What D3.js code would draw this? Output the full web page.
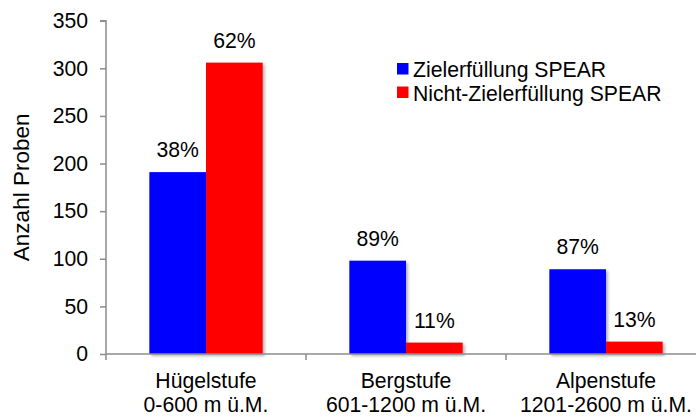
<!DOCTYPE html>
<html>
<head>
<meta charset="utf-8">
<script src="https://cdn.jsdelivr.net/npm/d3@7/dist/d3.min.js"></script>
<style>
  html, body { margin: 0; padding: 0; background: #fff; }
  svg { display: block; font-family: "Liberation Sans", Arial, sans-serif; }
</style>
</head>
<body>
<svg id="chart" width="696" height="416"></svg>
<script>
const categories = ["Hügelstufe", "Bergstufe", "Alpenstufe"];
const categorySub = ["0-600 m ü.M.", "601-1200 m ü.M.", "1201-2600 m ü.M."];
const seriesNames = ["Zielerfüllung SPEAR", "Nicht-Zielerfüllung SPEAR"];
const seriesColors = ["#0000ff", "#ff0000"];
const zielValues = [191, 98, 89];
const nichtZielValues = [306, 12, 13];
const zielLabels = ["38%", "89%", "87%"];
const nichtZielLabels = ["62%", "11%", "13%"];
const yTicks = [0, 50, 100, 150, 200, 250, 300, 350];

(function () {
const svg = d3.select("#chart");
const mLeft = 106, mRight = 706, mTop = 20.7, mBottom = 354;
const fs = 21.2;

const defs = svg.append("defs");
const f = defs.append("filter").attr("id", "shadow")
  .attr("x", "-10%").attr("y", "-10%").attr("width", "130%").attr("height", "130%");
f.append("feDropShadow").attr("dx", 2).attr("dy", 2).attr("stdDeviation", 1.5)
  .attr("flood-color", "#000").attr("flood-opacity", 0.3);

const x = d3.scaleBand().domain(categories).range([mLeft, mRight]).padding(0);
const bw = x.bandwidth();
const x1 = d3.scaleBand().domain(seriesNames).range([bw * 0.2167, bw * 0.7833]).padding(0);
const y = d3.scaleLinear().domain([0, 350]).range([mBottom, mTop]);

const data = categories.map((c, i) => ({
  cat: c,
  vals: [
    { s: seriesNames[0], v: zielValues[i], lab: zielLabels[i], col: seriesColors[0] },
    { s: seriesNames[1], v: nichtZielValues[i], lab: nichtZielLabels[i], col: seriesColors[1] }
  ]
}));

// Y axis
const yAxis = d3.axisLeft(y).tickValues(yTicks).tickSize(6).tickPadding(12);
const gy = svg.append("g").attr("transform", `translate(${mLeft},0)`).call(yAxis);
gy.select(".domain").attr("stroke", "#8c8c8c").attr("stroke-width", 1.5)
  .attr("d", `M-6,${mTop}H0V${mBottom}`);
gy.selectAll(".tick line").attr("stroke", "#8c8c8c").attr("stroke-width", 1.5);
gy.selectAll(".tick text").attr("font-size", fs).attr("fill", "#000")
  .attr("font-family", "Liberation Sans, Arial, sans-serif");

// bars
const groups = svg.append("g").selectAll("g").data(data).join("g")
  .attr("transform", d => `translate(${x(d.cat)},0)`);
groups.selectAll("rect").data(d => d.vals).join("rect")
  .attr("x", d => x1(d.s))
  .attr("y", d => y(d.v))
  .attr("width", x1.bandwidth())
  .attr("height", d => y(0) - y(d.v))
  .attr("fill", d => d.col)
  .attr("filter", "url(#shadow)");
groups.selectAll("text").data(d => d.vals).join("text")
  .attr("x", d => x1(d.s) + x1.bandwidth() / 2)
  .attr("y", d => y(d.v) - 15)
  .attr("text-anchor", "middle")
  .attr("font-size", fs)
  .attr("fill", "#000")
  .text(d => d.lab);

// X axis
svg.append("line").attr("x1", mLeft).attr("x2", 696).attr("y1", mBottom).attr("y2", mBottom)
  .attr("stroke", "#8c8c8c").attr("stroke-width", 1.5);
const boundaries = categories.map(c => x(c)).concat([x(categories[categories.length - 1]) + bw]);
svg.append("g").selectAll("line").data(boundaries).join("line")
  .attr("x1", d => d).attr("x2", d => d)
  .attr("y1", mBottom).attr("y2", mBottom + 6)
  .attr("stroke", "#8c8c8c").attr("stroke-width", 1.5);
const xl = svg.append("g").selectAll("text").data(categories).join("text")
  .attr("text-anchor", "middle")
  .attr("font-size", fs)
  .attr("fill", "#000");
xl.append("tspan").attr("x", d => x(d) + bw / 2).attr("y", 388).text(d => d);
xl.append("tspan").attr("x", d => x(d) + bw / 2).attr("y", 412)
  .text((d, i) => categorySub[i]);

// Y title
svg.append("text")
  .attr("transform", `translate(29,${(mTop + mBottom) / 2}) rotate(-90)`)
  .attr("text-anchor", "middle")
  .attr("font-size", 22.5)
  .attr("fill", "#000")
  .text("Anzahl Proben");

// legend
const lg = svg.append("g").selectAll("g").data(seriesNames).join("g")
  .attr("transform", (d, i) => `translate(397,${63 + i * 23.5})`);
lg.append("rect").attr("width", 11.5).attr("height", 11.5)
  .attr("fill", (d, i) => seriesColors[i]);
lg.append("text").attr("x", 16).attr("y", 14).attr("font-size", fs)
  .attr("fill", "#000").text(d => d);
})();
</script>
</body>
</html>
